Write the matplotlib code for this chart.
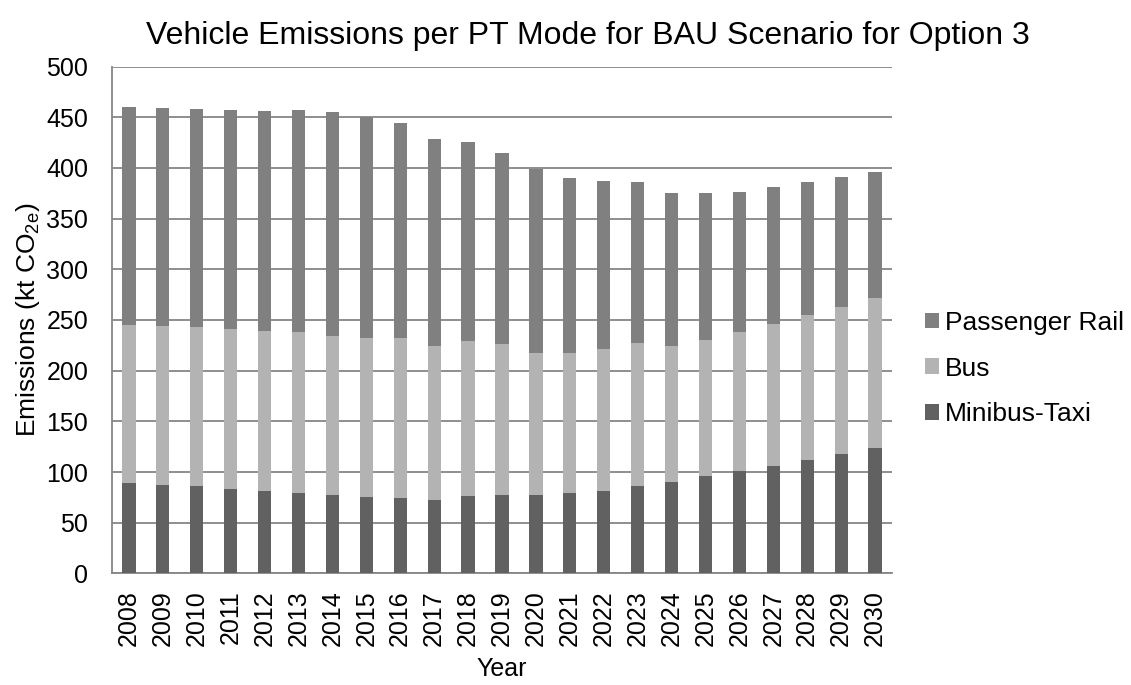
import matplotlib
matplotlib.use("Agg")
import matplotlib.pyplot as plt
import numpy as np

years = [str(y) for y in range(2008, 2031)]
minibus_taxi = [89.1, 86.8, 85.9, 83.6, 81.6, 79.6, 77.6, 75.7, 74.3, 72.7, 76.3, 77.6,
                77.6, 79.6, 81.6, 85.9, 90.5, 95.7, 101.3, 106.3, 112.2, 118.1, 124.0]
bus_top = [245.4, 243.8, 242.8, 241.4, 239.5, 238.2, 234.5, 232.6, 231.9, 224.7, 229.3, 226.6,
           217.8, 217.8, 221.4, 227.6, 224.3, 230.6, 238.5, 246.4, 255.3, 263.2, 272.0]
total = [460.5, 459.2, 458.6, 456.9, 456.3, 457.6, 455.3, 450.0, 444.4, 428.6, 425.3, 414.5,
         398.7, 390.5, 386.8, 386.2, 375.7, 375.3, 376.3, 381.3, 385.9, 391.1, 395.7]

taxi = np.array(minibus_taxi)
bus = np.array(bus_top) - taxi
rail = np.array(total) - np.array(bus_top)

plt.rcParams['font.family'] = ['Liberation Sans', 'DejaVu Sans']
plt.rcParams['mathtext.fontset'] = 'custom'
plt.rcParams['mathtext.rm'] = 'Liberation Sans'
plt.rcParams['mathtext.it'] = 'Liberation Sans'

fig = plt.figure(figsize=(11.31, 6.85), dpi=100)
ax = fig.add_axes([0.099, 0.163, 0.6897, 0.7397])

x = np.arange(len(years))
w = 0.39
c_taxi, c_bus, c_rail = '#616161', '#b3b3b3', '#808080'
b1 = ax.bar(x, taxi, w, color=c_taxi, label='Minibus-Taxi', zorder=3)
b2 = ax.bar(x, bus, w, bottom=taxi, color=c_bus, label='Bus', zorder=3)
b3 = ax.bar(x, rail, w, bottom=taxi + bus, color=c_rail, label='Passenger Rail', zorder=3)

ax.set_xlim(-0.5, len(years) - 0.5)
ax.set_ylim(0, 500)
ax.set_yticks(np.arange(0, 501, 50))
ax.yaxis.grid(True, color='#868686', linewidth=1.3, zorder=0)
ax.set_axisbelow(True)
for s in ['top', 'right']:
    ax.spines[s].set_visible(False)
ax.spines['left'].set_color('#868686')
ax.spines['bottom'].set_color('#868686')
ax.spines['left'].set_linewidth(1.3)
ax.spines['bottom'].set_linewidth(1.3)

ax.set_xticks(x)
ax.set_xticklabels(years, rotation=90, fontsize=18)
ax.tick_params(axis='x', length=0, pad=12)
ax.tick_params(axis='y', length=0, labelsize=18, pad=17)

ax.set_xlabel('Year', fontsize=18, labelpad=8)
ax.set_ylabel('Emissions (kt CO$_{\\mathrm{2e}}$)', fontsize=19, labelpad=3)
fig.text(588 / 1131, 1 - 36 / 685, 'Vehicle Emissions per PT Mode for BAU Scenario for Option 3',
         fontsize=23, ha='center', va='center')

leg = fig.legend(handles=[b3, b2, b1], labels=['Passenger Rail', 'Bus', 'Minibus-Taxi'],
                 loc='center left', bbox_to_anchor=(0.7965, 0.462), frameon=False,
                 fontsize=19, handlelength=0.53, handleheight=0.53, handletextpad=0.25,
                 labelspacing=0.82)

fig.savefig('out.png', dpi=100)
